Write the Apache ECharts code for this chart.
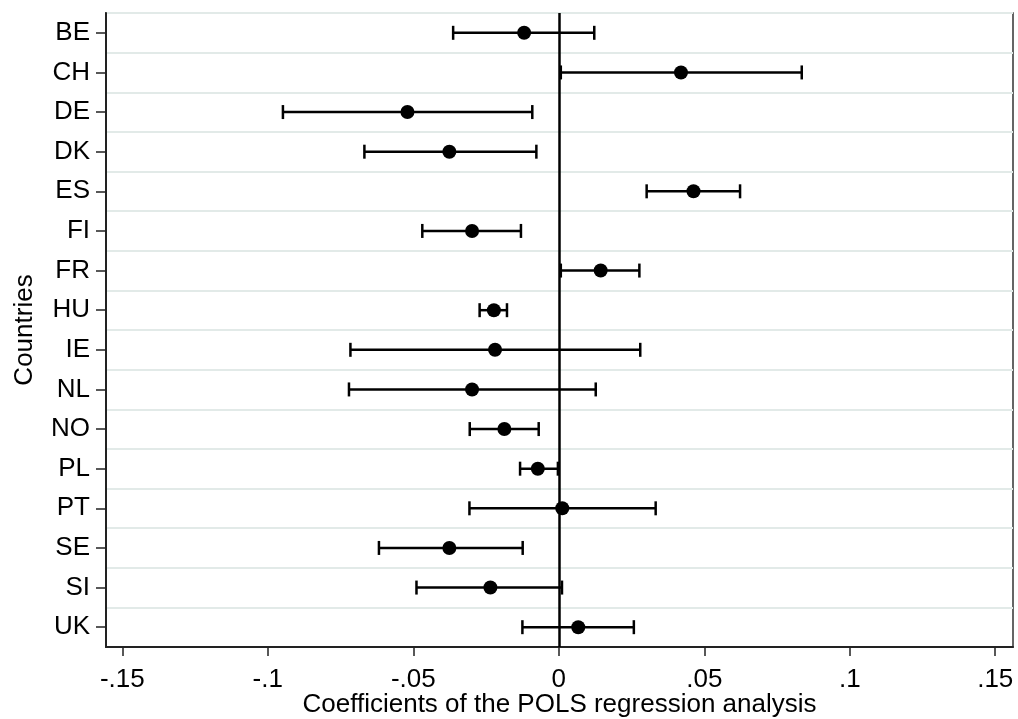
<!DOCTYPE html>
<html>
<head>
<meta charset="utf-8">
<script src="https://cdn.jsdelivr.net/npm/echarts@6/dist/echarts.min.js"></script>
<style>
html,body{margin:0;padding:0;background:#fff;}
#chart{width:1018px;height:719px;}
</style>
</head>
<body>
<div id="chart"></div>
<script>
const categories = ['BE','CH','DE','DK','ES','FI','FR','HU','IE','NL','NO','PL','PT','SE','SI','UK'];
const coef  = [-0.0119, 0.0420, -0.0520, -0.0376, 0.0463, -0.0298, 0.0144, -0.0223, -0.0219, -0.0298, -0.0187, -0.0072, 0.0012, -0.0376, -0.0235, 0.0067];
const lower = [-0.0363, 0.0007, -0.0948, -0.0668, 0.0302, -0.0469, 0.0007, -0.0272, -0.0716, -0.0721, -0.0306, -0.0133, -0.0307, -0.0618, -0.0489, -0.0125];
const upper = [ 0.0122, 0.0835, -0.0091, -0.0077, 0.0623, -0.0130, 0.0277, -0.0178, 0.0280, 0.0127, -0.0069, -0.0003, 0.0333, -0.0124, 0.0011, 0.0258];
const tickValues = [-0.15, -0.1, -0.05, 0, 0.05, 0.1, 0.15];
const tickLabels = ['-.15', '-.1', '-.05', '0', '.05', '.1', '.15'];
const xMin = -0.1556, xMax = 0.1561;

const FONT = "'Liberation Sans', Arial, sans-serif";
const chart = echarts.init(document.getElementById('chart'), null, {renderer: 'canvas'});

const barData = categories.map((c, i) => [i, lower[i], upper[i]]);
const dotData = categories.map((c, i) => [coef[i], i]);

chart.setOption({
  animation: false,
  backgroundColor: '#ffffff',
  grid: {
    left: 106, right: 5, top: 13, bottom: 72,
    containLabel: false,
    outerBoundsMode: 'none',
    show: true, borderColor: '#333', borderWidth: 1.5, backgroundColor: 'transparent'
  },
  xAxis: {
    type: 'value',
    min: xMin, max: xMax,
    name: 'Coefficients of the POLS regression analysis',
    nameLocation: 'middle',
    nameGap: 45,
    nameMoveOverlap: false,
    nameTextStyle: {fontFamily: FONT, fontSize: 26, color: '#000'},
    axisLine: {show: true, onZero: false, lineStyle: {color: '#222', width: 2}},
    axisTick: {show: true, length: 9, lineStyle: {color: '#222', width: 1.5}, customValues: tickValues},
    axisLabel: {
      show: true, margin: 20, fontFamily: FONT, fontSize: 26, color: '#000',
      customValues: tickValues,
      formatter: function (v) {
        for (let k = 0; k < tickValues.length; k++) {
          if (Math.abs(tickValues[k] - v) < 1e-9) return tickLabels[k];
        }
        return '';
      }
    },
    splitLine: {show: false}
  },
  yAxis: {
    type: 'category',
    data: categories,
    inverse: true,
    boundaryGap: true,
    name: 'Countries',
    nameLocation: 'middle',
    nameGap: 68,
    nameMoveOverlap: false,
    nameRotate: 90,
    nameTextStyle: {fontFamily: FONT, fontSize: 26, color: '#000'},
    axisLine: {show: true, onZero: false, lineStyle: {color: '#222', width: 2}},
    axisTick: {show: true, alignWithLabel: true, length: 10, lineStyle: {color: '#222', width: 1.5}},
    axisLabel: {show: true, margin: 16, fontFamily: FONT, fontSize: 26, color: '#000'},
    splitLine: {show: true, lineStyle: {color: '#e2eae8', width: 2}}
  },
  series: [
    {
      type: 'custom',
      data: barData,
      encode: {x: [1, 2], y: 0},
      z: 3,
      renderItem: function (params, api) {
        const cat = api.value(0);
        const p1 = api.coord([api.value(1), cat]);
        const p2 = api.coord([api.value(2), cat]);
        const h = 7;
        const style = {stroke: '#000', lineWidth: 2.5};
        return {
          type: 'group',
          children: [
            {type: 'line', shape: {x1: p1[0], y1: p1[1], x2: p2[0], y2: p2[1]}, style: style},
            {type: 'line', shape: {x1: p1[0], y1: p1[1] - h, x2: p1[0], y2: p1[1] + h}, style: style},
            {type: 'line', shape: {x1: p2[0], y1: p2[1] - h, x2: p2[0], y2: p2[1] + h}, style: style}
          ]
        };
      }
    },
    {
      type: 'scatter',
      data: dotData,
      symbol: 'circle',
      symbolSize: 14,
      itemStyle: {color: '#000', opacity: 1},
      z: 4,
      markLine: {
        silent: true,
        symbol: ['none', 'none'],
        label: {show: false},
        lineStyle: {color: '#000', width: 2.5, type: 'solid', opacity: 1},
        data: [{xAxis: 0}]
      }
    }
  ]
});
</script>
</body>
</html>
